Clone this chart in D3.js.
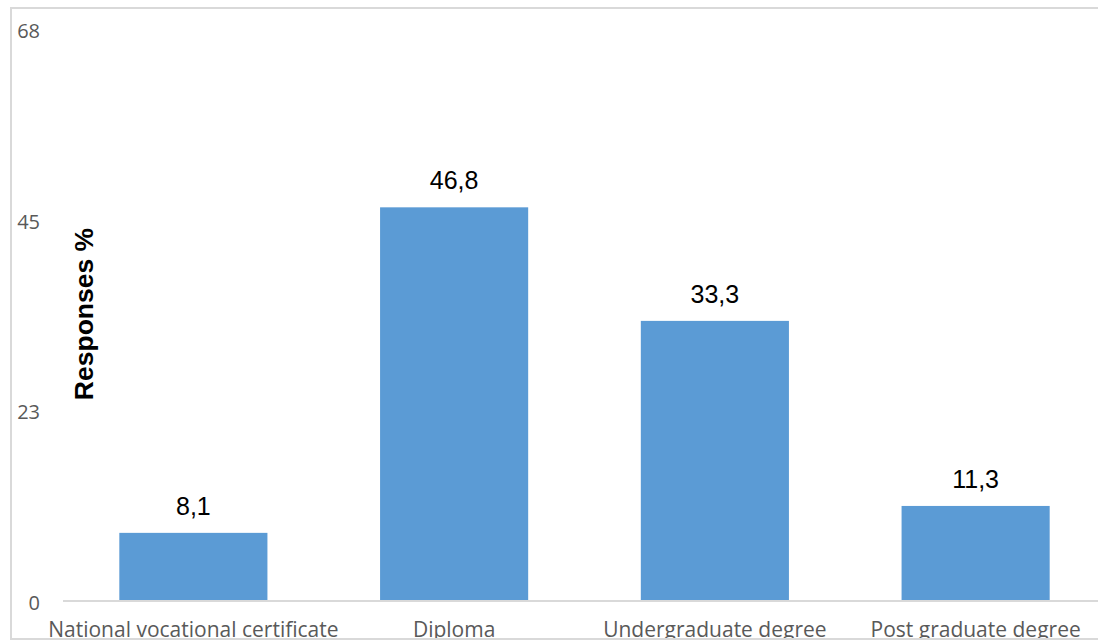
<!DOCTYPE html>
<html>
<head>
<meta charset="utf-8">
<script src="https://cdn.jsdelivr.net/npm/d3@7"></script>
<style>
  html, body { margin: 0; padding: 0; background: #fff; }
  svg { display: block; }
</style>
</head>
<body>
<svg id="chart" width="1098" height="642"></svg>
<script>
// ---- data ----
const categories = ["National vocational certificate", "Diploma", "Undergraduate degree", "Post graduate degree"];
const values = [8.1, 46.8, 33.3, 11.3];
const tickValues = [0, 68 / 3, 136 / 3, 68];
const tickLabels = ["0", "23", "45", "68"];
const yTitle = "Responses %";

// ---- layout ----
const svg = d3.select("#chart");
const W = 1098, H = 642;
const plot = { left: 63, right: 1106, top: 29, bottom: 601 };

const x = d3.scaleBand()
  .domain(categories)
  .range([plot.left, plot.right])
  .paddingInner(0.432)
  .paddingOuter(0.216);

const y = d3.scaleLinear()
  .domain([0, 68])
  .range([plot.bottom, plot.top]);

// clip region inside the frame
svg.append("defs").append("clipPath").attr("id", "frameClip")
  .append("rect").attr("x", 12).attr("y", 9).attr("width", W).attr("height", 630);

const g = svg.append("g").attr("clip-path", "url(#frameClip)");

// bars
g.selectAll("rect.bar")
  .data(values)
  .join("rect")
  .attr("class", "bar")
  .attr("x", (d, i) => x(categories[i]))
  .attr("width", x.bandwidth())
  .attr("y", d => y(d))
  .attr("height", d => y(0) - y(d))
  .attr("fill", "#5b9bd5");

// baseline
g.append("line")
  .attr("x1", plot.left).attr("x2", W + 20)
  .attr("y1", y(0)).attr("y2", y(0))
  .attr("stroke", "#d9d9d9").attr("stroke-width", 2);

// y axis (labels only)
const yAxis = d3.axisLeft(y)
  .tickValues(tickValues)
  .tickFormat((d, i) => tickLabels[i])
  .tickSize(0)
  .tickPadding(0);
const yG = g.append("g").attr("transform", "translate(40,0)").call(yAxis);
yG.select(".domain").remove();
yG.selectAll("text")
  .attr("font-family", "'Open Sans', sans-serif")
  .attr("font-size", 20)
  .attr("fill", "#595959")
  .attr("dy", "0.42em");

// x axis labels
const xAxis = d3.axisBottom(x).tickSize(0).tickPadding(0);
const xG = g.append("g").attr("transform", `translate(0,${y(0)})`).call(xAxis);
xG.select(".domain").remove();
xG.selectAll("text")
  .attr("font-family", "'Open Sans', sans-serif")
  .attr("font-size", 21)
  .attr("fill", "#595959")
  .attr("dy", null)
  .attr("y", 36);

// value labels
const fmt = d => d3.format(".1f")(d).replace(".", ",");
g.selectAll("text.val")
  .data(values)
  .join("text")
  .attr("class", "val")
  .attr("x", (d, i) => x(categories[i]) + x.bandwidth() / 2)
  .attr("y", d => y(d) - 18)
  .attr("text-anchor", "middle")
  .attr("font-family", "'Liberation Sans', Arial, sans-serif")
  .attr("font-size", 25)
  .attr("fill", "#000")
  .text(fmt);

// y title
g.append("text")
  .attr("transform", `translate(93,${(plot.top + plot.bottom) / 2 - 1}) rotate(-90)`)
  .attr("text-anchor", "middle")
  .attr("font-family", "'Liberation Sans', Arial, sans-serif")
  .attr("font-weight", "bold")
  .attr("font-size", 26.5)
  .attr("fill", "#000")
  .text(yTitle);

// frame
svg.append("rect")
  .attr("x", 11).attr("y", 8)
  .attr("width", W + 20).attr("height", 631)
  .attr("fill", "none")
  .attr("stroke", "#d9d9d9").attr("stroke-width", 2);
</script>
</body>
</html>
